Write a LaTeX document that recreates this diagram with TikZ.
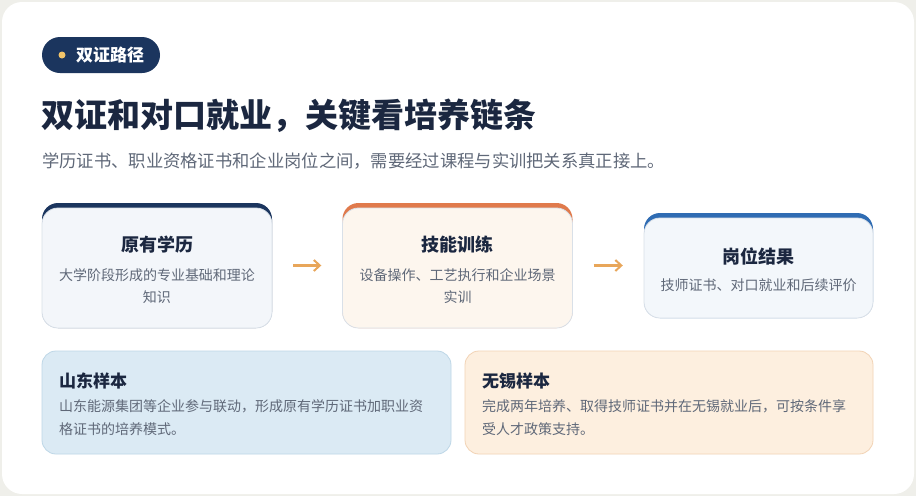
\documentclass[tikz,border=0pt]{standalone}
\usepackage{fontspec}
\setmainfont{Noto Sans CJK SC}
\usetikzlibrary{arrows.meta, positioning}
\definecolor{pagebg}{HTML}{EFEFEA}
\definecolor{navy}{HTML}{1B355E}
\definecolor{ink}{HTML}{1B2740}
\definecolor{muted}{HTML}{5F6878}
\definecolor{coral}{HTML}{E07A4C}
\definecolor{steel}{HTML}{2F6CB3}
\definecolor{amber}{HTML}{E8A65A}
\definecolor{gold}{HTML}{F2C46A}
\definecolor{cardline}{HTML}{D9E0E8}
\definecolor{eduBg}{HTML}{F3F6FA}
\definecolor{skillBg}{HTML}{FDF6EE}
\definecolor{jobBg}{HTML}{F3F7FB}
\definecolor{sdBg}{HTML}{DBEAF4}
\definecolor{sdLine}{HTML}{BED7E7}
\definecolor{wxBg}{HTML}{FDEFDF}
\definecolor{wxLine}{HTML}{F2D3B5}

\begin{document}
\begin{tikzpicture}[x=1pt, y=-1pt,
  band/.style={rounded corners=16pt, minimum width=230pt, inner sep=0pt},
  card/.style={draw=cardline, line width=0.8pt, rounded corners=16pt, minimum width=230pt, inner sep=0pt},
  cardtitle/.style={font=\bfseries\fontsize{18}{22}\selectfont, text=ink},
  carddesc/.style={font=\fontsize{14}{22}\selectfont, text=muted, align=center},
  sample/.style={line width=0.8pt, rounded corners=14pt, minimum width=409pt, minimum height=103pt, inner sep=0pt},
  sampletitle/.style={font=\bfseries\fontsize{17}{20}\selectfont, text=ink, anchor=west, inner sep=0pt},
  sampledesc/.style={font=\fontsize{14}{23}\selectfont, text=muted, align=left, anchor=west, inner sep=0pt},
  flow/.style={-{Straight Barb[length=6pt, width=11pt, line width=2pt]}, line width=2.2pt, draw=amber, shorten >=21pt, shorten <=21pt}]

  % Page
  \useasboundingbox (0,0) rectangle (916,496);
  \fill[pagebg] (0,0) rectangle (916,496);
  \node[fill=white, rounded corners=20pt, minimum width=912pt, minimum height=492pt, inner sep=0pt] (sheet) at (458,248) {};

  % Header
  \node[fill=navy, rounded corners=18pt, minimum width=118pt, minimum height=36pt, inner sep=0pt] (tag) at (101,55) {};
  \node[circle, fill=gold, minimum size=7pt, inner sep=0pt] (tagdot) at (62,55) {};
  \node[text=white, font=\bfseries\fontsize{17}{20}\selectfont, inner sep=0pt] (tagtext) at (110,55) {双证路径};
  \node[anchor=west, inner sep=0pt, text=ink, font=\bfseries\fontsize{33}{38}\selectfont] (headline) at (41,116) {双证和对口就业，关键看培养链条};
  \node[anchor=west, inner sep=0pt, text=muted, font=\fontsize{17.3}{20}\selectfont] (subline) at (42,161) {学历证书、职业资格证书和企业岗位之间，需要经过课程与实训把关系真正接上。};

  % Chain
  \node[band, fill=navy, minimum height=125pt] (eduTop) at (157,265.5) {};
  \node[card, fill=eduBg, minimum height=120pt] (edu) at (157,268) {};
  \node[cardtitle] (eduTitle) at (157,245) {原有学历};
  \node[carddesc] (eduText) at (157,286) {大学阶段形成的专业基础和理论\\知识};

  \node[band, fill=coral, minimum height=125pt] (skillTop) at (457.5,265.5) {};
  \node[card, fill=skillBg, minimum height=120pt] (skill) at (457.5,268) {};
  \node[cardtitle] (skillTitle) at (457.5,245) {技能训练};
  \node[carddesc] (skillText) at (457.5,286) {设备操作、工艺执行和企业场景\\实训};

  \node[band, fill=steel, minimum height=105pt, minimum width=229pt] (jobTop) at (758.5,265.5) {};
  \node[card, fill=jobBg, minimum height=100pt, minimum width=229pt] (job) at (758.5,268) {};
  \node[cardtitle] (jobTitle) at (758.5,256) {岗位结果};
  \node[carddesc] (jobText) at (758.5,285) {技师证书、对口就业和后续评价};

  \draw[flow] (eduTop) -- (skillTop);
  \draw[flow] (skillTop) -- (jobTop);

  % Samples
  \node[sample, fill=sdBg, draw=sdLine] (shandong) at (246.5,402.5) {};
  \node[sampletitle] (shandongTitle) at (59,381) {山东样本};
  \node[sampledesc] (shandongText) at (59,418) {山东能源集团等企业参与联动，形成原有学历证书加职业资\\格证书的培养模式。};

  \node[sample, fill=wxBg, draw=wxLine, minimum width=408pt] (wuxi) at (669,402.5) {};
  \node[sampletitle] (wuxiTitle) at (482,381) {无锡样本};
  \node[sampledesc] (wuxiText) at (482,418) {完成两年培养、取得技师证书并在无锡就业后，可按条件享\\受人才政策支持。};
\end{tikzpicture}
\end{document}
